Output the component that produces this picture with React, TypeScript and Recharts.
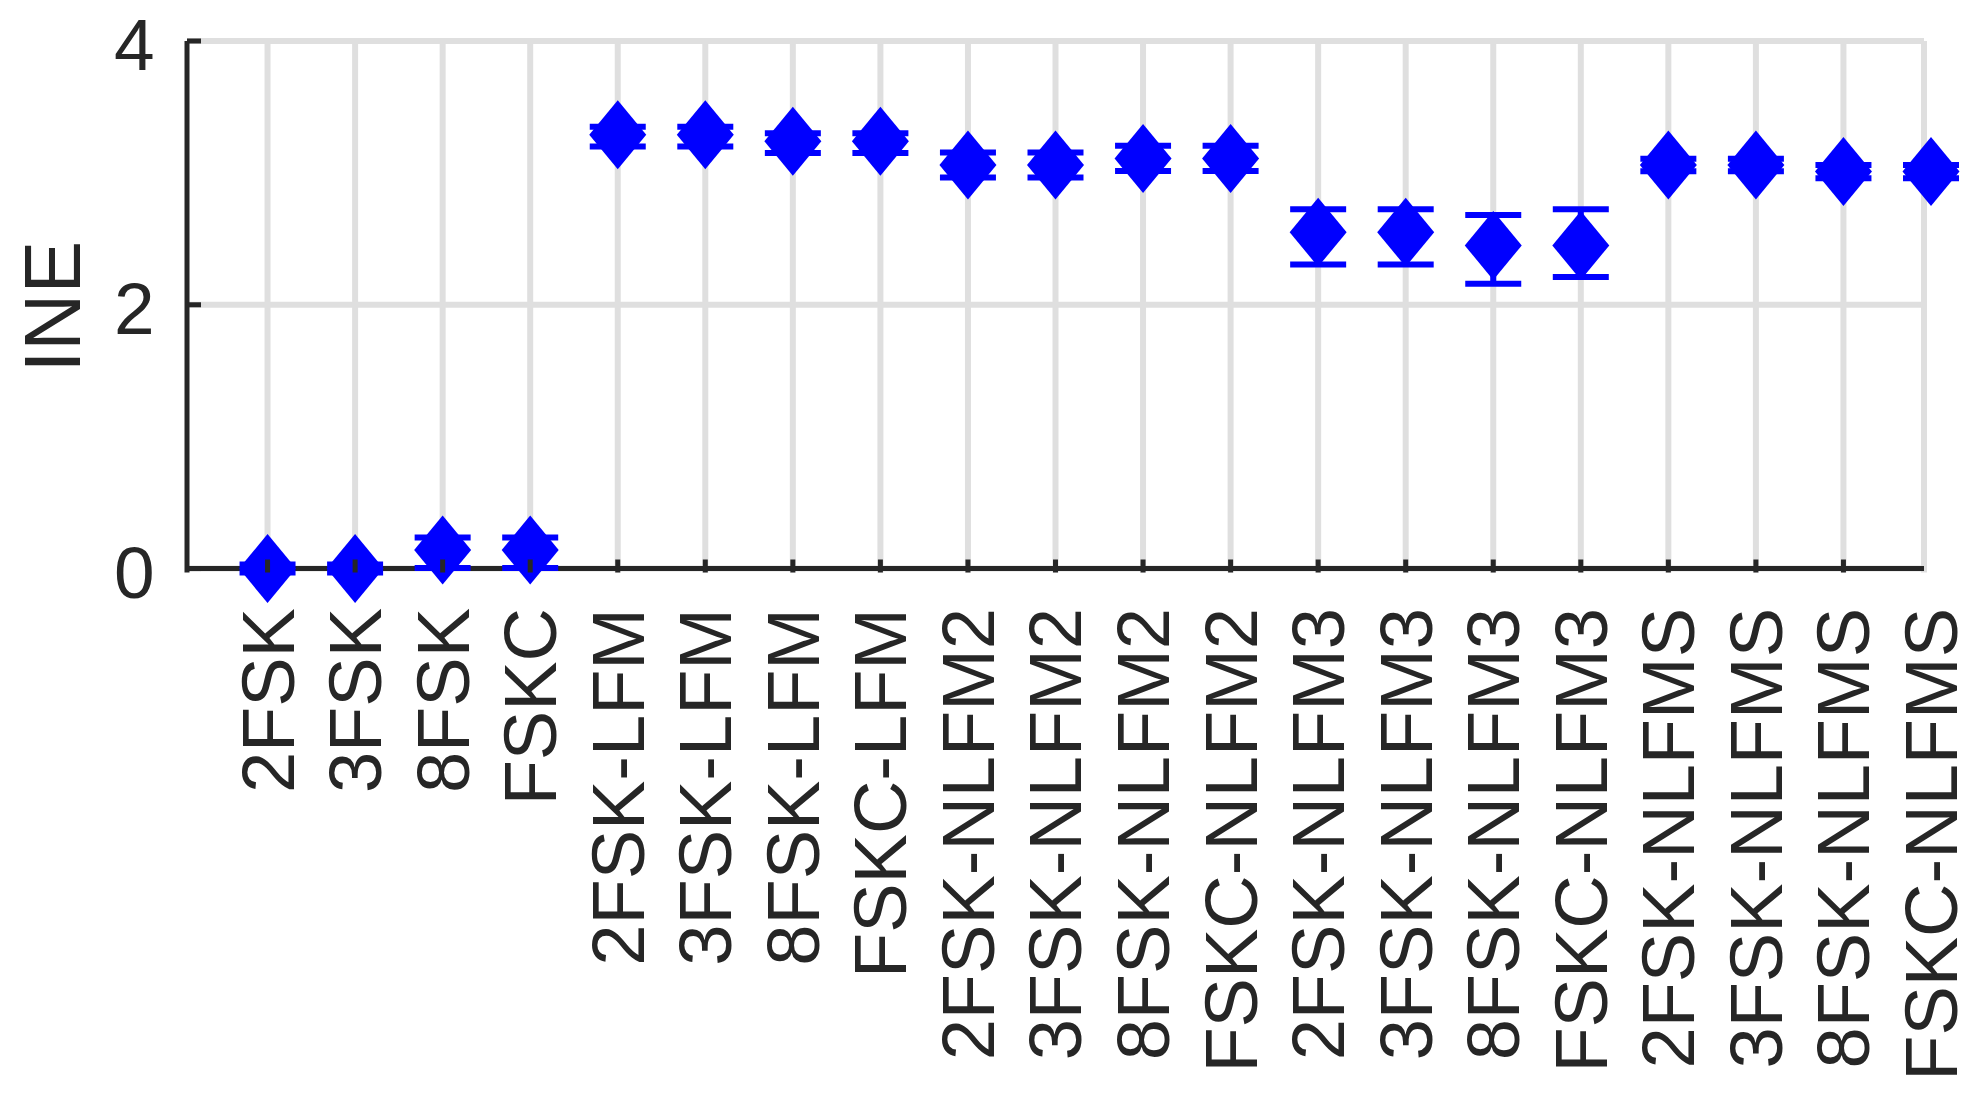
import React from 'react';
import { ScatterChart, Scatter, XAxis, YAxis, ErrorBar, ReferenceLine, Label } from 'recharts';

const categories = [
  '2FSK', '3FSK', '8FSK', 'FSKC',
  '2FSK-LFM', '3FSK-LFM', '8FSK-LFM', 'FSKC-LFM',
  '2FSK-NLFM2', '3FSK-NLFM2', '8FSK-NLFM2', 'FSKC-NLFM2',
  '2FSK-NLFM3', '3FSK-NLFM3', '8FSK-NLFM3', 'FSKC-NLFM3',
  '2FSK-NLFMS', '3FSK-NLFMS', '8FSK-NLFMS', 'FSKC-NLFMS',
];
const ineMean = [0, 0, 0.14, 0.14, 3.29, 3.29, 3.24, 3.24, 3.06, 3.06, 3.11, 3.11, 2.55, 2.55, 2.45, 2.45, 3.06, 3.06, 3.01, 3.01];
const errLow = [0.03, 0.03, 0.135, 0.135, 0.09, 0.09, 0.09, 0.09, 0.095, 0.095, 0.095, 0.095, 0.245, 0.245, 0.29, 0.24, 0.047, 0.047, 0.05, 0.05];
const errHigh = [0.03, 0.03, 0.095, 0.095, 0.06, 0.06, 0.06, 0.06, 0.095, 0.095, 0.095, 0.095, 0.175, 0.175, 0.23, 0.275, 0.047, 0.047, 0.05, 0.05];
const yTicks = [0, 2, 4];
const xTicks = categories.map((_, i) => i + 1);
const X_MIN = 0.08;
const X_MAX = 19.92;

const data = categories.map((c, i) => ({ x: i + 1, y: ineMean[i], err: [errLow[i], errHigh[i]], name: c }));

const FONT = '"Liberation Sans", Arial, Helvetica, sans-serif';
const TEXT = '#262626';
const GRID = '#dfdfdf';
const BLUE = '#0000ff';
const X_TICK_GAP = 35.5;
const Y_TICK_GAP = 32.5;

const XTick = (props: any) => {
  const { x, y, payload } = props;
  const v = payload.value;
  const label = categories[v - 1];
  const axisY = y - X_TICK_GAP;
  return (
    <g>
      {v <= X_MAX && (
        <line x1={x} x2={x} y1={axisY} y2={axisY - 13} stroke={TEXT} strokeWidth={5} />
      )}
      <text
        x={x}
        y={y}
        dy={26}
        transform={`rotate(-90, ${x}, ${y})`}
        textAnchor="end"
        fontSize={74}
        fontFamily={FONT}
        fill={TEXT}
      >
        {label}
      </text>
    </g>
  );
};

const YTick = (props: any) => {
  const { x, y, payload } = props;
  const axisX = x + Y_TICK_GAP;
  return (
    <g>
      <line x1={axisX} x2={axisX + 14} y1={y} y2={y} stroke={TEXT} strokeWidth={5} />
      <text x={x} y={y} dy={29} textAnchor="end" fontSize={73} fontFamily={FONT} fill={TEXT}>
        {payload.value}
      </text>
    </g>
  );
};

const Diamond = (props: any) => {
  const { cx, cy } = props;
  const hw = 28.5;
  const hh = 34.5;
  return (
    <polygon
      points={`${cx},${cy - hh} ${cx + hw},${cy} ${cx},${cy + hh} ${cx - hw},${cy}`}
      fill={BLUE}
      stroke="none"
    />
  );
};

const YLabel = (props: any) => {
  const vb = props.viewBox || {};
  const cy = vb.y + vb.height / 2;
  const cx = 44;
  return (
    <text
      x={cx}
      y={cy}
      dy={28}
      transform={`rotate(-90, ${cx}, ${cy})`}
      textAnchor="middle"
      fontSize={79}
      fontFamily={FONT}
      fill={TEXT}
    >
      INE
    </text>
  );
};

export default function App() {
  return (
    <div style={{ width: 1971, height: 1084, background: '#fff' }}>
      <ScatterChart width={1971} height={1084} margin={{ top: 33, right: 48, left: 0, bottom: 0 }}>
        {yTicks.map((t) => (
          <ReferenceLine
            key={'h' + t}
            segment={[{ x: X_MIN, y: t }, { x: X_MAX, y: t }]}
            stroke={GRID}
            strokeWidth={6}
            zIndex={-50}
          />
        ))}
        {xTicks.filter((t) => t <= X_MAX).map((t) => (
          <ReferenceLine key={'v' + t} x={t} stroke={GRID} strokeWidth={6} zIndex={-50} />
        ))}
        <ReferenceLine x={X_MAX} stroke={GRID} strokeWidth={6} zIndex={-50} />
        <ReferenceLine
          segment={[{ x: X_MIN, y: 0 }, { x: X_MAX, y: 0 }]}
          stroke={TEXT}
          strokeWidth={5}
          zIndex={-40}
        />
        <XAxis
          type="number"
          dataKey="x"
          domain={[X_MIN, 'dataMax']}
          ticks={xTicks}
          interval={0}
          height={519.5}
          tickSize={0}
          tickMargin={X_TICK_GAP}
          tickLine={false}
          axisLine={false}
          tick={<XTick />}
        />
        <YAxis
          type="number"
          dataKey="y"
          domain={[0, 4]}
          ticks={yTicks}
          interval={0}
          width={179}
          tickSize={0}
          tickMargin={Y_TICK_GAP}
          tickLine={false}
          axisLine={{ stroke: TEXT, strokeWidth: 5 }}
          tick={<YTick />}
        >
          <Label content={<YLabel />} />
        </YAxis>
        <Scatter data={data} shape={<Diamond />} isAnimationActive={false}>
          <ErrorBar dataKey="err" direction="y" width={28} stroke={BLUE} strokeWidth={6} />
        </Scatter>
      </ScatterChart>
    </div>
  );
}
